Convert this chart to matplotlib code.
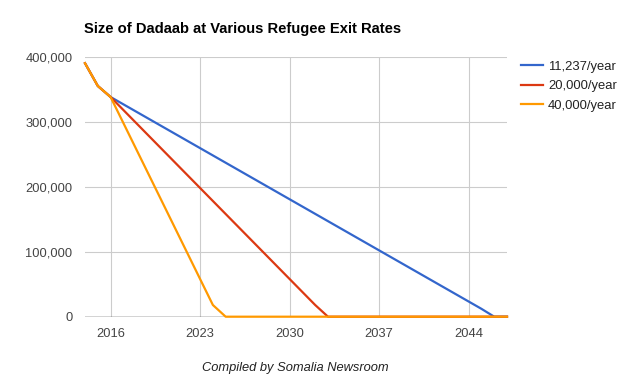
import matplotlib
matplotlib.use("Agg")
import matplotlib.pyplot as plt
from matplotlib.ticker import FuncFormatter

plt.rcParams['font.family'] = ['Liberation Sans', 'DejaVu Sans']

years = list(range(2014, 2048))
blue_vals = [390000, 355000, 338000, 326763, 315526, 304289, 293052, 281815, 270578,
             259341, 248104, 236867, 225630, 214393, 203156, 191919, 180682, 169445,
             158208, 146971, 135734, 124497, 113260, 102023, 90786, 79549, 68312,
             57075, 45838, 34601, 23364, 12127, 0, 0]
red_vals = [390000, 355000, 338000, 318000, 298000, 278000, 258000, 238000, 218000,
            198000, 178000, 158000, 138000, 118000, 98000, 78000, 58000, 38000,
            18000, 0, 0, 0, 0, 0, 0, 0, 0, 0, 0, 0, 0, 0, 0, 0]
orange_vals = [390000, 355000, 338000, 298000, 258000, 218000, 178000, 138000, 98000,
               58000, 18000, 0, 0, 0, 0, 0, 0, 0, 0, 0, 0, 0, 0, 0, 0, 0, 0, 0,
               0, 0, 0, 0, 0, 0]
series_labels = ["11,237/year", "20,000/year", "40,000/year"]
series_colors = ["#3366CC", "#DC3912", "#FF9900"]
x_ticks = [2016, 2023, 2030, 2037, 2044]
y_ticks = [0, 100000, 200000, 300000, 400000]

W, H = 636, 392
fig = plt.figure(figsize=(W / 100, H / 100), dpi=100)
ax = fig.add_axes([85 / W, (H - 316.7) / H, (507 - 85) / W, (316.7 - 56.7) / H])

for vals, lab, col in zip([blue_vals, red_vals, orange_vals], series_labels, series_colors):
    ax.plot(years, vals, color=col, lw=1.6, label=lab, clip_on=False, zorder=3,
            solid_joinstyle='round')

ax.set_xlim(2014, 2047)
ax.set_ylim(0, 400000)
ax.set_xticks(x_ticks)
ax.set_yticks(y_ticks)
ax.yaxis.set_major_formatter(FuncFormatter(lambda v, p: f"{int(v):,}"))
ax.grid(True, color="#CCCCCC", lw=0.8, zorder=0)
ax.axhline(0, color="#333333", lw=1.0, zorder=2)
for s in ax.spines.values():
    s.set_visible(False)
ax.tick_params(length=0, labelsize=9.3, colors="#444444")
ax.tick_params(axis='x', pad=8)
ax.tick_params(axis='y', pad=9)

fig.text(84 / W, 1 - 29 / H, "Size of Dadaab at Various Refugee Exit Rates",
         fontsize=10.6, fontweight='bold', color="#000000", va='center', ha='left')
fig.text(295.5 / W, 1 - 368 / H, "Compiled by Somalia Newsroom",
         fontsize=9.3, style='italic', color="#222222", va='center', ha='center')

ax.legend(loc='upper left', bbox_to_anchor=(509 / W, 1 - 49 / H), bbox_transform=fig.transFigure,
          frameon=False, fontsize=9.4, handlelength=1.7, handletextpad=0.4,
          labelspacing=0.55, labelcolor="#222222")

fig.savefig("out.png", dpi=100)
